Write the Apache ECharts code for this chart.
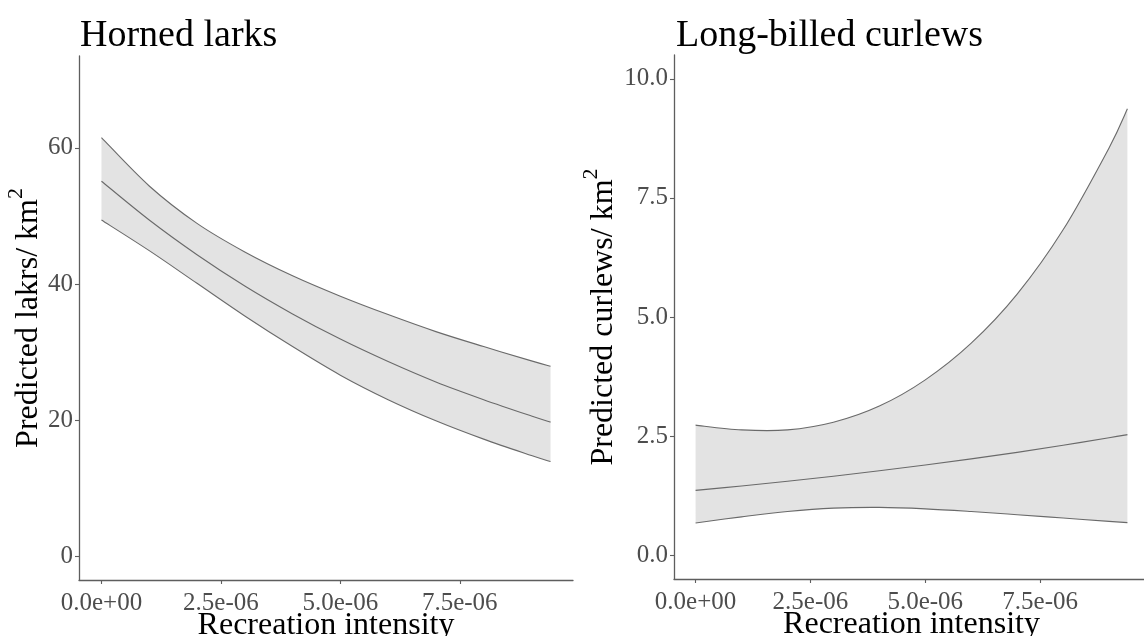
<!DOCTYPE html>
<html>
<head>
<meta charset="utf-8">
<script src="https://cdn.jsdelivr.net/npm/echarts@6/dist/echarts.min.js"></script>
<style>
  html, body { margin: 0; padding: 0; background: #fff; }
  #chart { width: 1144px; height: 636px; }
</style>
</head>
<body>
<div id="chart"></div>
<script>
// Recreation intensity values at which predictions were made
const intensity = [0, 1e-6, 2e-6, 3e-6, 4e-6, 5e-6, 6e-6, 7e-6, 8e-6, 9e-6, 9.4e-6];

// Horned larks: predicted density and 95% confidence band
const larkFit   = [55.1, 49.4, 44.3, 39.7, 35.6, 31.9, 28.6, 25.6, 23.0, 20.6, 19.7];
const larkUpper = [61.5, 54.4, 48.9, 44.7, 41.2, 38.2, 35.5, 33.0, 30.8, 28.7, 27.9];
const larkLower = [49.4, 44.9, 40.1, 35.3, 30.8, 26.6, 23.0, 19.9, 17.2, 14.8, 13.9];

// Long-billed curlews: predicted density and 95% confidence band
const curlewFit   = [1.36, 1.453, 1.552, 1.658, 1.771, 1.892, 2.021, 2.159, 2.307, 2.464, 2.53];
const curlewUpper = [2.73, 2.63, 2.63, 2.79, 3.13, 3.68, 4.45, 5.48, 6.83, 8.55, 9.37];
const curlewLower = [0.677, 0.804, 0.916, 0.987, 1.003, 0.973, 0.917, 0.850, 0.780, 0.710, 0.683];

// Tick positions and labels
const xTicks = [0, 2.5e-6, 5e-6, 7.5e-6];
const xTickLabels = ['0.0e+00', '2.5e-06', '5.0e-06', '7.5e-06'];
const larkTicks = [0, 20, 40, 60];
const larkTickLabels = ['0', '20', '40', '60'];
const curlewTicks = [0, 2.5, 5, 7.5, 10];
const curlewTickLabels = ['0.0', '2.5', '5.0', '7.5', '10.0'];

const titles = ['Horned larks', 'Long-billed curlews'];
const xName = 'Recreation intensity';
const larkYName = 'Predicted lakrs/ km';
const curlewYName = 'Predicted curlews/ km';

const FONT = '"Liberation Serif", "Times New Roman", serif';
const AXIS_COLOR = '#5e5e5e';
const TICK_TEXT = '#4d4d4d';
const LINE_COLOR = '#6a6a6a';
const BAND_COLOR = '#e3e3e3';

function lookup(values, labels) {
  const tol = Math.abs(values[1] - values[0]) * 1e-6;
  return function (v) {
    for (let i = 0; i < values.length; i++) {
      if (Math.abs(values[i] - v) < tol) return labels[i];
    }
    return '';
  };
}

// Smooth curve through pixel points (Catmull-Rom as cubic Beziers)
function curvePath(pts, moveFirst) {
  let d = (moveFirst ? 'M' : 'L') + pts[0][0] + ' ' + pts[0][1];
  for (let i = 0; i < pts.length - 1; i++) {
    const p0 = pts[Math.max(i - 1, 0)], p1 = pts[i], p2 = pts[i + 1], p3 = pts[Math.min(i + 2, pts.length - 1)];
    const c1x = p1[0] + (p2[0] - p0[0]) / 6, c1y = p1[1] + (p2[1] - p0[1]) / 6;
    const c2x = p2[0] - (p3[0] - p1[0]) / 6, c2y = p2[1] - (p3[1] - p1[1]) / 6;
    d += ' C' + c1x + ' ' + c1y + ' ' + c2x + ' ' + c2y + ' ' + p2[0] + ' ' + p2[1];
  }
  return d;
}

// Ribbon plus fitted line, drawn once per panel in data coordinates
function ribbonSeries(idx, lower, upper, fit) {
  return {
    type: 'custom', xAxisIndex: idx, yAxisIndex: idx, silent: true, clip: true,
    data: [[intensity[0], fit[0]]],
    renderItem: function (params, api) {
      const toPx = ys => intensity.map((x, i) => api.coord([x, ys[i]]));
      const up = toPx(upper), lo = toPx(lower), mid = toPx(fit);
      const band = curvePath(up, true) + ' ' + curvePath(lo.slice().reverse(), false) + ' Z';
      const lineStyle = { fill: null, stroke: LINE_COLOR, lineWidth: 1.1 };
      return {
        type: 'group',
        children: [
          { type: 'path', shape: { pathData: band }, style: { fill: BAND_COLOR, stroke: null } },
          { type: 'path', shape: { pathData: curvePath(up, true) }, style: lineStyle },
          { type: 'path', shape: { pathData: curvePath(lo, true) }, style: lineStyle },
          { type: 'path', shape: { pathData: curvePath(mid, true) }, style: lineStyle }
        ]
      };
    }
  };
}

const xMax = intensity[intensity.length - 1];
const xPad = xMax * 0.05;

function xAxisFor(gridIndex) {
  return {
    type: 'value', gridIndex: gridIndex,
    min: -xPad, max: xMax + xPad,
    name: xName, nameLocation: 'middle', nameGap: 30, nameMoveOverlap: false,
    nameTextStyle: { fontFamily: FONT, fontSize: 32, color: '#000' },
    axisLine: { show: true, onZero: false, lineStyle: { color: AXIS_COLOR, width: 1.3 } },
    axisTick: { show: true, length: 4, customValues: xTicks, lineStyle: { color: AXIS_COLOR, width: 1.1 } },
    axisLabel: { customValues: xTicks, formatter: lookup(xTicks, xTickLabels), margin: 11,
      fontFamily: FONT, fontSize: 25, color: TICK_TEXT },
    splitLine: { show: false }
  };
}

function yAxisFor(gridIndex, min, max, ticks, labels, name, gap) {
  return {
    type: 'value', gridIndex: gridIndex,
    min: min, max: max,
    name: '{t|' + name + '}{sup|2}', nameLocation: 'middle', nameGap: gap, nameRotate: 90, nameMoveOverlap: false,
    nameTextStyle: {
      fontFamily: FONT, fontSize: 32, color: '#000',
      rich: {
        t: { fontFamily: FONT, fontSize: 32, color: '#000', lineHeight: 40, verticalAlign: 'bottom' },
        sup: { fontFamily: FONT, fontSize: 22, color: '#000', lineHeight: 22, verticalAlign: 'top' }
      }
    },
    axisLine: { show: true, onZero: false, lineStyle: { color: AXIS_COLOR, width: 1.3 } },
    axisTick: { show: true, length: 4, customValues: ticks, lineStyle: { color: AXIS_COLOR, width: 1.1 } },
    axisLabel: { customValues: ticks, formatter: lookup(ticks, labels), margin: 6,
      fontFamily: FONT, fontSize: 25, color: TICK_TEXT },
    splitLine: { show: false }
  };
}

const chart = echarts.init(document.getElementById('chart'), null, { renderer: 'canvas' });
chart.setOption({
  backgroundColor: '#fff',
  animation: false,
  title: [
    { text: titles[0], left: 75, top: 12, textStyle: { fontFamily: FONT, fontSize: 38, fontWeight: 'normal', color: '#000' } },
    { text: titles[1], left: 671, top: 12, textStyle: { fontFamily: FONT, fontSize: 38, fontWeight: 'normal', color: '#000' } }
  ],
  grid: [
    { left: 79, top: 56, width: 494, height: 524, outerBoundsMode: 'none', containLabel: false },
    { left: 674, top: 55, width: 475, height: 524, outerBoundsMode: 'none', containLabel: false }
  ],
  xAxis: [xAxisFor(0), xAxisFor(1)],
  yAxis: [
    yAxisFor(0, -3.5, 73.5, larkTicks, larkTickLabels, larkYName, 34),
    yAxisFor(1, -0.5, 10.5, curlewTicks, curlewTickLabels, curlewYName, 54)
  ],
  series: [
    ribbonSeries(0, larkLower, larkUpper, larkFit),
    ribbonSeries(1, curlewLower, curlewUpper, curlewFit)
  ]
});
</script>
</body>
</html>
